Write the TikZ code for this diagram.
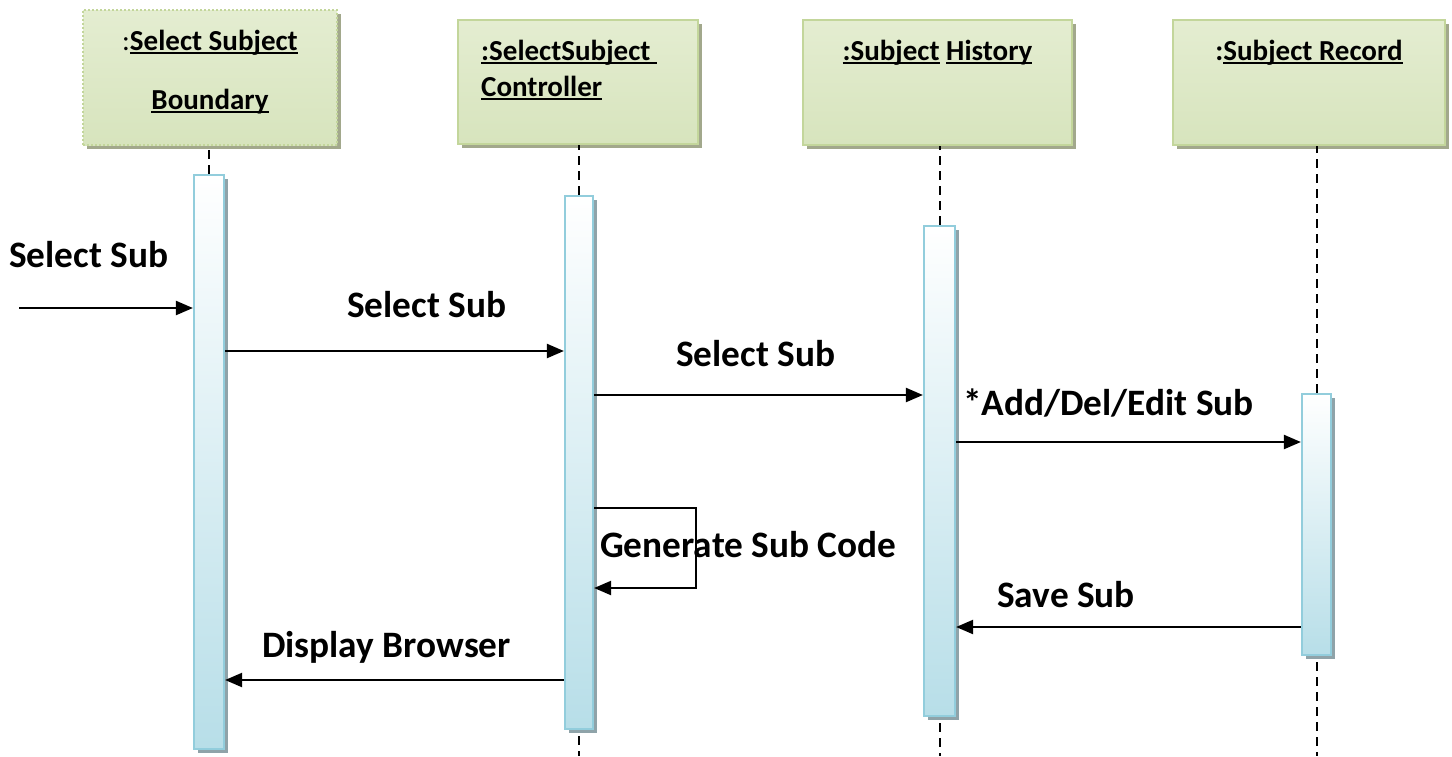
\documentclass[tikz,border=0pt]{standalone}
\usepackage{fontspec}
\setmainfont{Carlito}
\usetikzlibrary{arrows.meta,shadows}

\definecolor{objline}{HTML}{C3D69B}
\definecolor{objtop}{HTML}{E4EDD1}
\definecolor{objmid}{HTML}{F6F9F0}
\definecolor{objbot}{HTML}{D7E4BD}
\definecolor{objshadow}{HTML}{A2A88C}
\definecolor{barline}{HTML}{92CDDC}
\definecolor{barbot}{HTML}{B7DEE8}
\definecolor{barshadow}{HTML}{8FA3A9}

% underline drawn at a fixed depth, through the descenders
\newsavebox\ulinebox
\newcommand\ulin[1]{\sbox\ulinebox{#1}\rlap{\rule[-3.8pt]{\wd\ulinebox}{2pt}}\usebox\ulinebox}

\tikzset{
  objbox/.style={draw=objline, line width=2pt, top color=objtop, middle color=objmid,
    bottom color=objbot, inner sep=0pt,
    drop shadow={shadow xshift=4pt, shadow yshift=-4pt, fill=objshadow, opacity=1}},
  actbar/.style={draw=barline, line width=2.2pt, top color=white, bottom color=barbot,
    inner sep=0pt,
    drop shadow={shadow xshift=4pt, shadow yshift=-4pt, fill=barshadow, opacity=1}},
  title/.style={font=\fontsize{29}{34}\selectfont\bfseries, inner sep=0pt},
  lbl/.style={font=\fontsize{37.3}{44}\selectfont\bfseries, inner sep=0pt, anchor=base west},
  lifeline/.style={line width=2pt, dash pattern=on 9pt off 6pt},
  msg/.style={line width=2.2pt, -{Triangle[length=17pt,width=14pt]}},
}

\begin{document}
\begin{tikzpicture}[x=1pt,y=-1pt]
  \fill[white] (0,0) rectangle (1452,756);
  \useasboundingbox (0,0) rectangle (1452,756);

  % object boxes
  \node[objbox, dotted, minimum width=254pt, minimum height=135pt] (o1) at (210,77.5) {};
  \node[objbox, minimum width=240pt, minimum height=124pt] (o2) at (578,82) {};
  \node[objbox, minimum width=269pt, minimum height=125pt] (o3) at (937.5,82.5) {};
  \node[objbox, minimum width=272pt, minimum height=125pt] (o4) at (1309,82.5) {};

  % object titles
  \node[title, anchor=base] (t1a) at (210,50) {{\mdseries:}\ulin{Select Subject}};
  \node[title, anchor=base] (t1b) at (210,109) {\ulin{Boundary}};
  \node[title, anchor=base west] (t2a) at (481,60) {\ulin{:SelectSubject\ }};
  \node[title, anchor=base west] (t2b) at (481,96) {\ulin{Controller}};
  \node[title, anchor=base] (t3) at (937.5,60) {\ulin{:Subject} \ulin{History}};
  \node[title, anchor=base] (t4) at (1309,60) {:\ulin{Subject Record}};

  % activation bars
  \node[actbar, minimum width=30pt, minimum height=574pt] (b1) at (209,462) {};
  \node[actbar, minimum width=28pt, minimum height=533pt] (b2) at (579,462.5) {};
  \node[actbar, minimum width=31pt, minimum height=490pt] (b3) at (939.5,471) {};
  \node[actbar, minimum width=29pt, minimum height=261pt] (b4) at (1316.5,524.5) {};

  % lifelines
  \coordinate (e2) at (579,756);
  \coordinate (e3) at (939.5,756);
  \coordinate (e4) at (1316.5,756);
  \draw[lifeline] (b1.north) -- (b1.north |- o1.south);
  \draw[lifeline] (b2.north) -- (b2.north |- o2.south);
  \draw[lifeline] (b3.north) -- (b3.north |- o3.south);
  \draw[lifeline] (b4.north) -- (b4.north |- o4.south);
  \draw[lifeline] (b2.south) ++(0,6) -- (e2);
  \draw[lifeline] (b3.south) ++(0,6) -- (e3);
  \draw[lifeline] (b4.south) ++(0,6) -- (e4);

  % message anchor points
  \coordinate (start) at (19,308);
  \coordinate (m1) at (0,351);
  \coordinate (m2) at (0,395);
  \coordinate (m3) at (0,442);
  \coordinate (s1) at (0,508);
  \coordinate (s2) at (0,588);
  \coordinate (m5) at (0,627);
  \coordinate (m6) at (0,680);
  \coordinate (loopA) at (696,508);
  \coordinate (loopB) at (696,588);

  % messages
  \draw[msg] (start) -- (b1.west |- start);
  \draw[msg] (b1.east |- m1) -- (b2.west |- m1);
  \draw[msg] (b2.east |- m2) -- (b3.west |- m2);
  \draw[msg] (b3.east |- m3) -- (b4.west |- m3);
  \draw[msg] (b2.east |- s1) -- (loopA) -- (loopB) -- (b2.east |- s2);
  \draw[msg] (b4.west |- m5) -- (b3.east |- m5);
  \draw[msg] (b2.west |- m6) -- (b1.east |- m6);

  % message labels
  \node[lbl] (l0) at (9,267) {Select Sub};
  \node[lbl] (l1) at (347,317) {Select Sub};
  \node[lbl] (l2) at (676,366) {Select Sub};
  \node[lbl] (l3) at (963,415) {*Add/Del/Edit Sub};
  \node[lbl] (l4) at (600,557) {Generate Sub Code};
  \node[lbl] (l5) at (997,607) {Save Sub};
  \node[lbl] (l6) at (262,657) {Display Browser};
\end{tikzpicture}
\end{document}
